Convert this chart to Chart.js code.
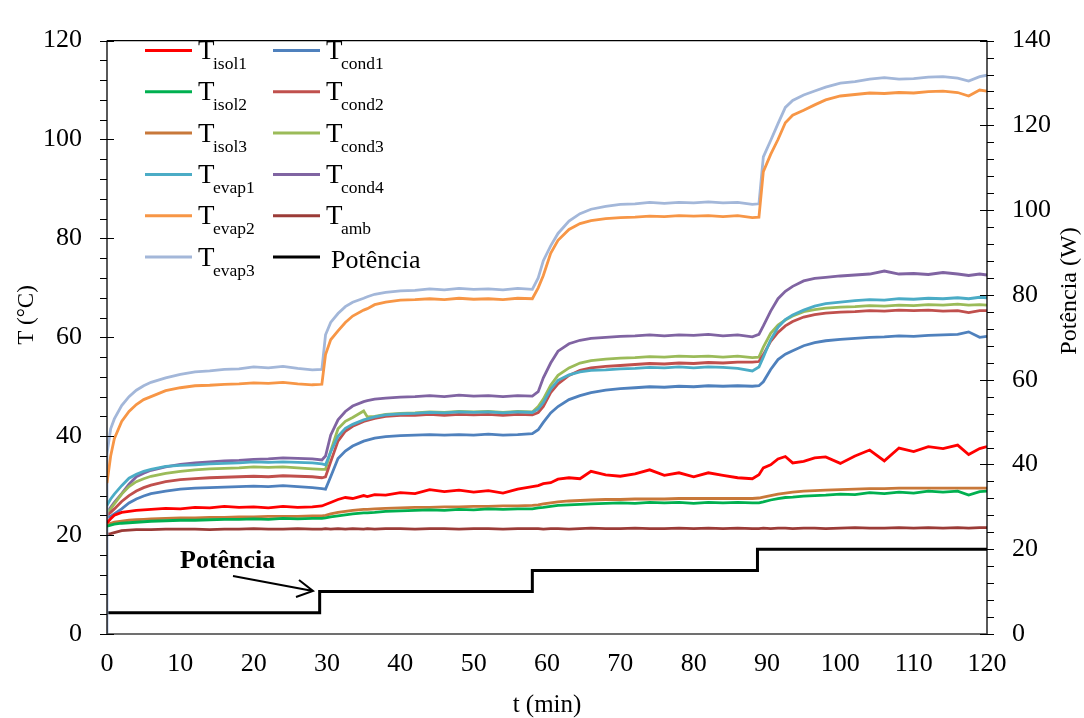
<!DOCTYPE html>
<html>
<head>
<meta charset="utf-8">
<script src="https://cdn.jsdelivr.net/npm/chart.js@4.4.1/dist/chart.umd.min.js"></script>
<style>
  html, body { margin: 0; padding: 0; background: #fff; }
</style>
</head>
<body>
<canvas id="chart" width="1084" height="718"></canvas>
<script>
'use strict';

// time base (min) shared by all temperature series
const minutes = [
  0, 0, 0.5, 1, 2, 3, 4, 5, 6, 8, 10, 12, 14, 16, 18, 20, 22, 24, 26, 28,
  29.3, 29.8, 30.5, 31.5, 32.5, 33.5, 35, 35.5, 36.5, 38, 40, 42, 44, 46, 48, 50, 52, 54, 56, 58,
  58.8, 59.5, 60.5, 61.5, 63, 64.5, 66, 68, 70, 72, 74, 76, 78, 80, 82, 84, 86, 88,
  88.9, 89.5, 90.5, 91.5, 92.5, 93.5, 95, 96.5, 98, 100, 102, 104, 106, 108, 110, 112, 114, 116, 117.5, 119, 120
];

// temperatures (°C)
const tIsol1 = [
  22.5, 22.5, 23.3, 24, 24.6, 24.8, 25, 25.1, 25.2, 25.4, 25.3, 25.6, 25.5, 25.8, 25.6, 25.7, 25.5, 25.8, 25.6, 25.7,
  25.9, 26.2, 26.6, 27.2, 27.6, 27.4, 28, 27.8, 28.2, 28.1, 28.6, 28.4, 29.2, 28.8, 29.1, 28.7, 29, 28.5, 29.3, 29.8,
  30, 30.4, 30.6, 31.3, 31.6, 31.4, 32.9, 32.2, 31.9, 32.4, 33.2, 32.1, 32.6, 31.8, 32.6, 32.1, 31.6, 31.4,
  32.2, 33.6, 34.2, 35.4, 35.9, 34.6, 34.9, 35.6, 35.8, 34.5, 36, 37.2, 35, 37.6, 36.9, 37.9, 37.5, 38.2, 36.3, 37.5, 37.9
];
const tIsol2 = [
  21.8, 21.8, 22, 22.2, 22.4, 22.5, 22.6, 22.7, 22.8, 22.9, 23, 23, 23.1, 23.2, 23.2, 23.3, 23.2, 23.4, 23.3, 23.4,
  23.4, 23.5, 23.7, 23.9, 24.1, 24.3, 24.5, 24.5, 24.6, 24.8, 24.9, 25, 25.1, 25, 25.2, 25.1, 25.3, 25.2, 25.3, 25.3,
  25.5, 25.6, 25.8, 26, 26.1, 26.2, 26.3, 26.4, 26.5, 26.4, 26.6, 26.5, 26.6, 26.4, 26.6, 26.5, 26.6, 26.5,
  26.5, 26.7, 27.1, 27.4, 27.6, 27.7, 27.9, 28, 28.1, 28.3, 28.2, 28.6, 28.4, 28.7, 28.5, 28.9, 28.7, 28.9, 28.1, 28.8, 28.9
];
const tIsol3 = [
  22.2, 22.2, 22.4, 22.6, 22.8, 23, 23.1, 23.2, 23.3, 23.4, 23.5, 23.5, 23.6, 23.6, 23.7, 23.7, 23.8, 23.8, 23.8, 23.9,
  23.9, 24, 24.3, 24.6, 24.8, 25, 25.2, 25.2, 25.3, 25.4, 25.5, 25.6, 25.6, 25.7, 25.7, 25.8, 25.8, 25.9, 25.9, 26,
  26.1, 26.3, 26.5, 26.7, 26.9, 27, 27.1, 27.2, 27.2, 27.3, 27.3, 27.3, 27.4, 27.4, 27.4, 27.4, 27.4, 27.4,
  27.5, 27.7, 28, 28.3, 28.5, 28.7, 28.9, 29, 29.1, 29.2, 29.3, 29.4, 29.4, 29.5, 29.5, 29.5, 29.5, 29.5, 29.5, 29.5, 29.5
];
const tEvap1 = [
  26, 26, 27.3, 28.3, 30, 31.5, 32.3, 32.9, 33.3, 33.9, 34.1, 34.2, 34.4, 34.5, 34.6, 34.8, 34.7, 34.8, 34.7, 34.6,
  34.4, 34.2, 36.8, 40, 41.6, 42.4, 43.3, 43.5, 43.9, 44.3, 44.5, 44.6, 44.8, 44.7, 44.9, 44.8, 44.9, 44.7, 44.9, 44.8,
  45.5, 46.8, 49.5, 51.3, 52.4, 53, 53.3, 53.4, 53.6, 53.7, 53.9, 53.8, 54, 53.8, 54, 53.9, 53.7, 53.2,
  54, 56, 59.5, 62, 63.6, 64.5, 65.5, 66.3, 66.8, 67.1, 67.4, 67.6, 67.5, 67.8, 67.7, 67.9, 67.8, 68, 67.8, 68.1, 68
];
const tEvap2 = [
  30.5, 30.5, 36, 39.5, 43, 45, 46.4, 47.4, 48, 49.2, 49.8, 50.2, 50.3, 50.5, 50.6, 50.8, 50.7, 50.9, 50.6, 50.4,
  50.5, 56.5, 59.5, 61.3, 63, 64.3, 65.5, 65.8, 66.6, 67.1, 67.5, 67.6, 67.8, 67.6, 67.9, 67.7, 67.8, 67.6, 67.9, 67.8,
  70, 72.5, 77, 79.6, 81.8, 83, 83.6, 84, 84.2, 84.3, 84.5, 84.4, 84.6, 84.5, 84.6, 84.4, 84.6, 84.2,
  84.3, 93.5, 97, 100, 103.4, 104.9, 105.9, 107, 108, 108.8, 109.1, 109.4, 109.3, 109.5, 109.4, 109.7, 109.8, 109.5, 108.8, 110, 109.8
];
const tEvap3 = [
  0, 36.5, 41.5, 43.5, 46.2, 48, 49.3, 50.2, 50.9, 51.8, 52.5, 53, 53.2, 53.5, 53.6, 54, 53.8, 54.1, 53.7, 53.4,
  53.5, 60.5, 63, 64.8, 66.2, 67.1, 67.9, 68.2, 68.7, 69.1, 69.4, 69.5, 69.8, 69.6, 69.9, 69.7, 69.8, 69.6, 69.9, 69.7,
  72, 75.5, 78.5, 81, 83.5, 85, 85.9, 86.5, 86.9, 87, 87.3, 87.1, 87.3, 87.2, 87.4, 87.2, 87.3, 86.9,
  87, 96.5, 99.8, 103.2, 106.5, 107.9, 109, 109.8, 110.6, 111.4, 111.7, 112.2, 112.5, 112.2, 112.3, 112.6, 112.7, 112.4, 111.8, 112.7, 113
];
const tCond1 = [
  23.5, 23.5, 23.8, 24.3, 25.3, 26.5, 27.3, 27.9, 28.4, 28.9, 29.3, 29.5, 29.6, 29.7, 29.8, 29.9, 29.8, 30, 29.8, 29.6,
  29.4, 29.3, 31.8, 35.5, 37, 38, 39, 39.2, 39.6, 39.9, 40.1, 40.2, 40.3, 40.2, 40.3, 40.2, 40.4, 40.2, 40.3, 40.5,
  41.3, 42.8, 44.7, 46, 47.4, 48.2, 48.8, 49.3, 49.6, 49.8, 50, 49.9, 50.1, 50, 50.2, 50.1, 50.2, 50.1,
  50.2, 51, 53.5, 55.5, 56.6, 57.3, 58.3, 58.9, 59.3, 59.6, 59.8, 60, 60.1, 60.3, 60.2, 60.4, 60.5, 60.6, 61.1, 60, 60.2
];
const tCond2 = [
  24, 24, 24.6, 25.3, 26.8, 28, 28.9, 29.6, 30.1, 30.8, 31.2, 31.4, 31.6, 31.7, 31.8, 31.9, 31.8, 32, 31.9, 31.8,
  31.6, 31.8, 34.8, 39, 41, 42, 43, 43.2, 43.6, 44, 44.2, 44.2, 44.4, 44.2, 44.4, 44.3, 44.4, 44.2, 44.4, 44.3,
  44.8, 46, 48.8, 50.6, 52.3, 53.3, 53.8, 54.1, 54.3, 54.5, 54.7, 54.6, 54.8, 54.7, 54.9, 54.8, 55, 55,
  55.1, 56.5, 59.2, 61, 62.3, 63.2, 64.1, 64.6, 64.9, 65.1, 65.2, 65.4, 65.3, 65.5, 65.4, 65.5, 65.3, 65.4, 65, 65.4, 65.4
];
const tCond3 = [
  24.5, 24.5, 25.3, 26.3, 28.3, 29.8, 30.8, 31.4, 31.9, 32.5, 32.9, 33.2, 33.4, 33.5, 33.6, 33.8, 33.7, 33.8, 33.6, 33.4,
  33.3, 33.3, 37, 41.5, 43, 43.8, 45.1, 43.9, 44, 44.4, 44.6, 44.7, 44.9, 44.8, 45, 44.9, 45, 44.8, 45, 44.9,
  46, 47.5, 50.3, 52.3, 53.8, 54.8, 55.3, 55.6, 55.8, 55.9, 56.1, 56, 56.2, 56.1, 56.2, 56, 56.2, 55.9,
  56, 58, 60.8, 62.5, 63.5, 64.3, 65.2, 65.6, 65.9, 66.1, 66.2, 66.4, 66.3, 66.5, 66.4, 66.6, 66.5, 66.7, 66.5, 66.6, 66.5
];
const tCond4 = [
  24.5, 24.5, 25.6, 26.6, 28.4, 30.3, 31.8, 32.5, 33.1, 33.8, 34.3, 34.6, 34.8, 35, 35.1, 35.3, 35.4, 35.6, 35.5, 35.4,
  35.2, 36, 40.2, 43.3, 45, 46.1, 47, 47.2, 47.5, 47.7, 47.9, 48, 48.2, 48, 48.3, 48.1, 48.2, 48, 48.2, 48.1,
  49, 51.8, 54.8, 57.2, 58.7, 59.4, 59.8, 60, 60.2, 60.3, 60.5, 60.3, 60.5, 60.4, 60.6, 60.3, 60.5, 60.1,
  60.6, 62.3, 65.3, 67.8, 69.3, 70.3, 71.4, 71.9, 72.1, 72.4, 72.6, 72.8, 73.4, 72.8, 72.9, 72.7, 73.1, 72.8, 72.5, 72.8, 72.6
];
const tAmb = [
  20.2, 20.2, 20.3, 20.5, 20.9, 21, 21.1, 21.1, 21.1, 21.2, 21.2, 21.2, 21.1, 21.2, 21.2, 21.3, 21.2, 21.2, 21.3, 21.2,
  21.2, 21.3, 21.2, 21.3, 21.2, 21.3, 21.2, 21.3, 21.2, 21.3, 21.3, 21.2, 21.3, 21.3, 21.2, 21.3, 21.3, 21.2, 21.3, 21.3,
  21.3, 21.2, 21.3, 21.3, 21.2, 21.3, 21.4, 21.3, 21.3, 21.4, 21.3, 21.3, 21.4, 21.3, 21.4, 21.3, 21.4, 21.3,
  21.3, 21.4, 21.3, 21.4, 21.4, 21.3, 21.4, 21.4, 21.3, 21.4, 21.5, 21.4, 21.4, 21.5, 21.4, 21.5, 21.4, 21.5, 21.4, 21.5, 21.5
];

// heater power steps (W)
const powerMinutes = [0, 29, 29, 58, 58, 88.7, 88.7, 120];
const powerWatts = [5, 5, 10, 10, 15, 15, 20, 20];

// axis ticks
const tempTicks = [0, 20, 40, 60, 80, 100, 120];
const powerTicks = [0, 20, 40, 60, 80, 100, 120, 140];
const timeTicks = [0, 10, 20, 30, 40, 50, 60, 70, 80, 90, 100, 110, 120];

const SERIF = '"Liberation Serif", "Times New Roman", serif';

// [label, subscript, colour, values]; first entry is drawn on top
const series = [
  ['T', 'isol1', '#ff0000', tIsol1],
  ['T', 'isol2', '#00b050', tIsol2],
  ['T', 'isol3', '#c8783a', tIsol3],
  ['T', 'evap1', '#4bacc6', tEvap1],
  ['T', 'evap2', '#f79646', tEvap2],
  ['T', 'evap3', '#a3b7d9', tEvap3],
  ['T', 'cond1', '#4f81bd', tCond1],
  ['T', 'cond2', '#c0504d', tCond2],
  ['T', 'cond3', '#9bbb59', tCond3],
  ['T', 'cond4', '#8064a2', tCond4],
  ['T', 'amb', '#9b3b37', tAmb]
];

const datasets = series.map(([main, sub, color, vals]) => ({
  label: main + sub,
  data: minutes.map((t, i) => ({ x: t, y: vals[i] })),
  borderColor: color,
  borderWidth: 2.8,
  pointRadius: 0,
  tension: 0,
  yAxisID: 'y'
}));
datasets.push({
  label: 'Potência',
  data: powerMinutes.map((t, i) => ({ x: t, y: powerWatts[i] })),
  borderColor: '#000',
  borderWidth: 3,
  pointRadius: 0,
  tension: 0,
  yAxisID: 'y2'
});

function fixedTicks(values) {
  return (scale) => { scale.ticks = values.map(v => ({ value: v })); };
}

// frame, minor/major tick marks, legend and the "Potência" callout
const decorations = {
  id: 'decorations',
  afterDraw(chart) {
    const { ctx, chartArea: a, scales } = chart;
    const y = scales.y, y2 = scales.y2;
    ctx.save();
    ctx.lineCap = 'butt';

    // plot frame
    ctx.strokeStyle = '#000';
    ctx.lineWidth = 1.3;
    ctx.beginPath();
    ctx.moveTo(a.left, a.top); ctx.lineTo(a.right, a.top);
    ctx.moveTo(a.left, a.top); ctx.lineTo(a.left, a.bottom);
    ctx.moveTo(a.right, a.top); ctx.lineTo(a.right, a.bottom);
    ctx.stroke();
    ctx.strokeStyle = '#404040';
    ctx.beginPath();
    ctx.moveTo(a.left, a.bottom); ctx.lineTo(a.right, a.bottom);
    ctx.stroke();

    // tick marks: majors cross the axis, minors sit outside
    ctx.strokeStyle = '#000';
    ctx.lineWidth = 1.2;
    ctx.beginPath();
    for (let v = 0; v <= 120; v += 4) {
      const py = Math.round(y.getPixelForValue(v)) + 0.5;
      const major = v % 20 === 0;
      ctx.moveTo(a.left - 7, py);
      ctx.lineTo(major ? a.left + 7 : a.left, py);
    }
    for (let v = 0; v <= 140; v += 4) {
      const py = Math.round(y2.getPixelForValue(v)) + 0.5;
      const major = v % 20 === 0;
      ctx.moveTo(major ? a.right - 7 : a.right, py);
      ctx.lineTo(a.right + 7, py);
    }
    ctx.stroke();

    // axis titles
    ctx.fillStyle = '#000';
    ctx.textAlign = 'center';
    ctx.textBaseline = 'middle';
    ctx.font = '23px ' + SERIF;
    ctx.save();
    ctx.translate(27, 315);
    ctx.rotate(-Math.PI / 2);
    ctx.fillText('T (°C)', 0, 0);
    ctx.restore();
    ctx.save();
    ctx.font = '24px ' + SERIF;
    ctx.translate(1070, 291);
    ctx.rotate(-Math.PI / 2);
    ctx.fillText('Potência (W)', 0, 0);
    ctx.restore();
    ctx.font = '25px ' + SERIF;
    ctx.fillText('t (min)', (a.left + a.right) / 2, 705);

    // legend, two columns of six
    const entries = series.map(s => [s[0], s[1], s[2]]);
    entries.push(['Potência', '', '#000']);
    const cols = [{ line: 145, text: 198 }, { line: 273, text: 326 }];
    ctx.textAlign = 'left';
    ctx.textBaseline = 'alphabetic';
    entries.forEach(([main, sub, color], k) => {
      const col = cols[Math.floor(k / 6)];
      const ly = 50.5 + (k % 6) * 41.3;
      ctx.strokeStyle = color;
      ctx.lineWidth = 3;
      ctx.beginPath();
      ctx.moveTo(col.line, ly);
      ctx.lineTo(col.line + 47, ly);
      ctx.stroke();
      ctx.fillStyle = '#000';
      if (sub) {
        ctx.font = '27px ' + SERIF;
        ctx.fillText(main, col.text, ly + 8.5);
        const w = ctx.measureText(main).width;
        ctx.font = '17.5px ' + SERIF;
        ctx.fillText(sub, col.text + w - 1.5, ly + 18.5);
      } else {
        ctx.font = '26px ' + SERIF;
        ctx.fillText(main, col.text + 5, ly + 11);
      }
    });

    // callout pointing at the first power step
    ctx.font = 'bold 26px ' + SERIF;
    ctx.fillStyle = '#000';
    ctx.fillText('Potência', 180, 568);
    ctx.strokeStyle = '#000';
    ctx.lineWidth = 2;
    ctx.beginPath();
    ctx.moveTo(233, 576);
    ctx.lineTo(313, 591);
    ctx.moveTo(299, 580);
    ctx.lineTo(313, 591);
    ctx.lineTo(296, 597);
    ctx.stroke();

    ctx.restore();
  }
};

Chart.defaults.font.family = SERIF;
Chart.defaults.color = '#000';

new Chart(document.getElementById('chart'), {
  type: 'line',
  data: { datasets },
  options: {
    responsive: false,
    animation: false,
    layout: { padding: { top: 30, right: 0, bottom: 0, left: 0 } },
    plugins: { legend: { display: false }, tooltip: { enabled: false } },
    scales: {
      x: {
        type: 'linear',
        min: 0, max: 120,
        afterBuildTicks: fixedTicks(timeTicks),
        afterFit: (s) => { s.height = 84; },
        grid: { display: false, drawTicks: false },
        border: { display: false },
        ticks: { font: { size: 26 }, padding: 15, maxRotation: 0, autoSkip: false }
      },
      y: {
        position: 'left',
        min: 0, max: 120,
        afterBuildTicks: fixedTicks(tempTicks),
        afterFit: (s) => { s.width = 107; },
        grid: { display: false, drawTicks: false },
        border: { display: false },
        ticks: { font: { size: 26 }, padding: 25 }
      },
      y2: {
        position: 'right',
        min: 0, max: 140,
        afterBuildTicks: fixedTicks(powerTicks),
        afterFit: (s) => { s.width = 97; },
        grid: { display: false, drawTicks: false },
        border: { display: false },
        ticks: { font: { size: 26 }, padding: 25 }
      }
    }
  },
  plugins: [decorations]
});
</script>
</body>
</html>
